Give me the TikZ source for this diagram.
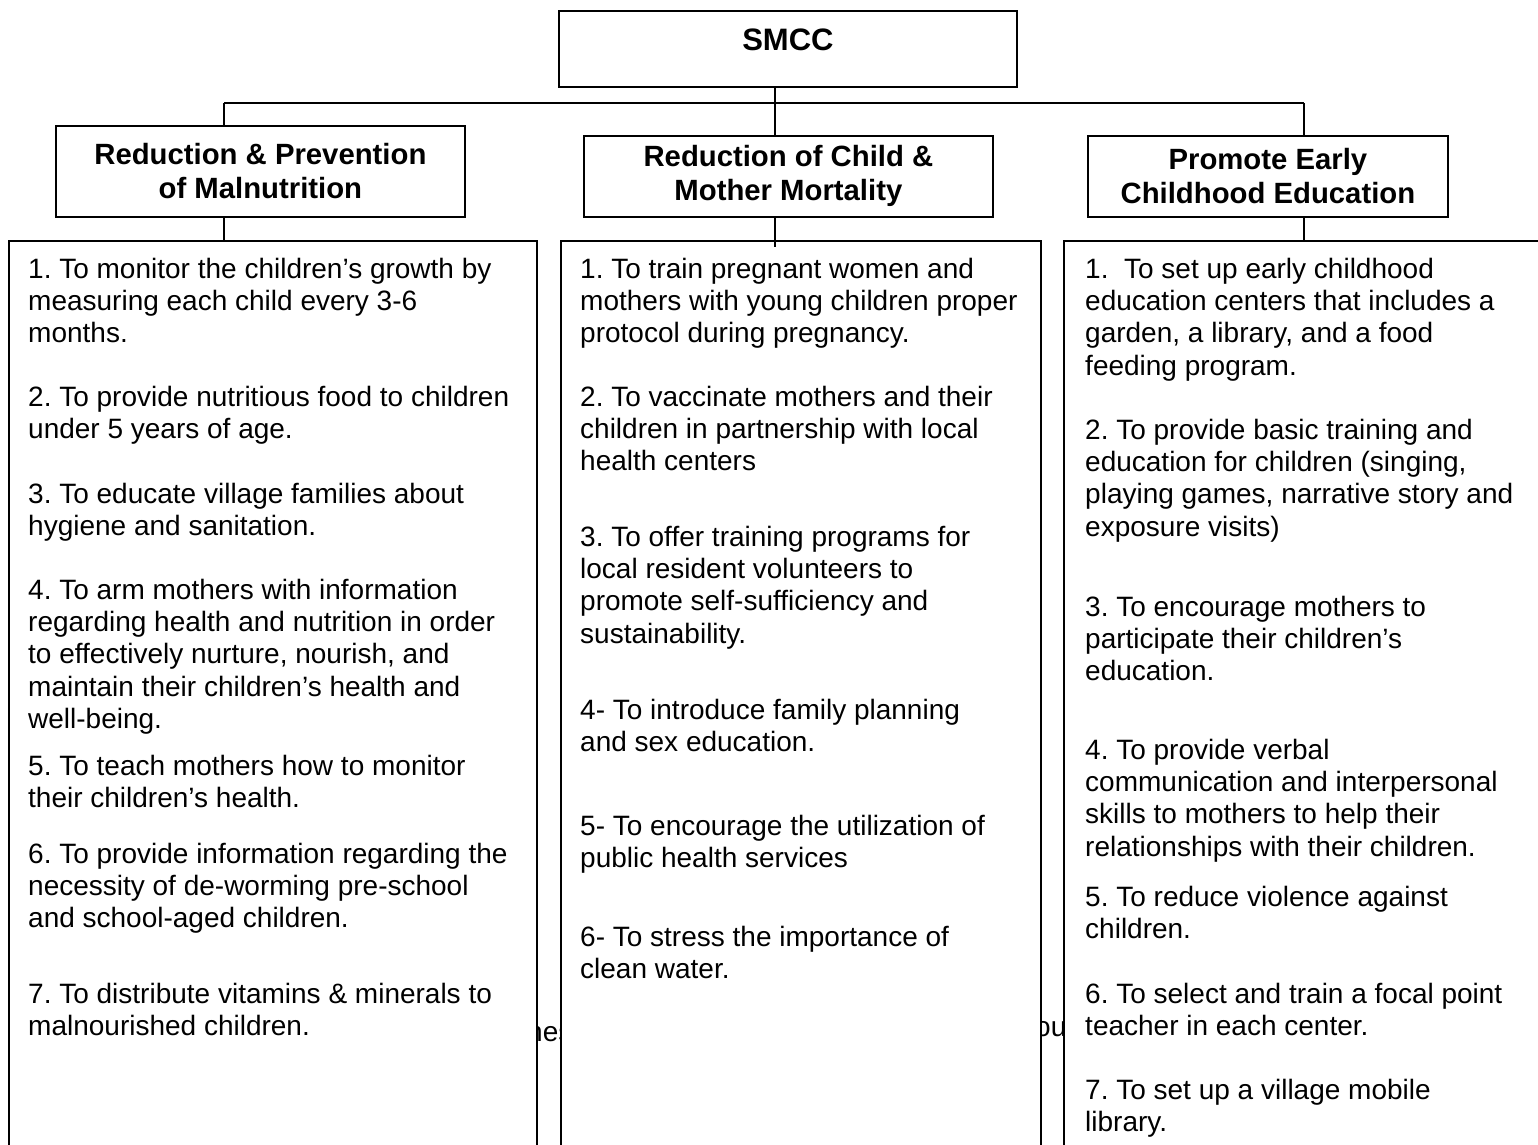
\documentclass[tikz,border=0pt]{standalone}
\usepackage{fontspec}
\setmainfont{Liberation Sans}
\usetikzlibrary{calc}
\frenchspacing
\begin{document}
\begin{tikzpicture}[x=1pt,y=-1pt,
  frame/.style={draw, line width=1.8pt, fill=white, inner sep=0pt},
  head/.style={frame, anchor=north west, align=center,
    font=\fontsize{29.3}{34}\selectfont\bfseries},
  column/.style={frame, anchor=north west, minimum height=960pt},
  item/.style={anchor=north west, inner sep=0pt, align=left,
    font=\fontsize{28}{32.2}\selectfont},
  link/.style={line width=1.3pt},
  stray/.style={anchor=north west, inner sep=0pt, font=\fontsize{28}{32}\selectfont}]
\useasboundingbox (0,0) rectangle (1538,1144);
\clip (0,0) rectangle (1538,1144);

% text lying behind the columns, only its edges show between them
\node[stray] (strayA) at (527,1021) {hes};
\node[stray] (strayB) at (1035,1021) {ou};

% top of the chart
\node[head, minimum width=458pt, minimum height=76pt,
  font=\fontsize{31}{34}\selectfont\bfseries,
  text height=22pt, text depth=18pt] (smcc) at (558,10) {SMCC};
\node[head, minimum width=409pt, minimum height=91pt] (headA) at (55,125)
  {Reduction \& Prevention\\of Malnutrition};
\node[head, minimum width=409pt, minimum height=81pt] (headB) at (583,135)
  {Reduction of Child \&\\Mother Mortality};
\node[head, minimum width=360pt, minimum height=81pt] (headC) at (1087,135)
  {Promote Early\\Childhood Education};

% the three columns run past the page bottom (and the right one past the edge)
\node[column, minimum width=528pt] (colA) at (8,240) {};
\node[column, minimum width=480pt] (colB) at (560,240) {};
\node[column, minimum width=500pt] (colC) at (1063,240) {};

% connectors
\coordinate (busL) at (224,103);
\coordinate (busM) at (775,103);
\coordinate (busR) at (1304,103);
\draw[link] (busL) -- (busR);
\draw[link] (busM |- smcc.south) -- (busM);
\draw[link] (busL) -- (busL |- headA.north);
\draw[link] (busM) -- (busM |- headB.north);
\draw[link] (busR) -- (busR |- headC.north);
\draw[link] (busL |- headA.south) -- (busL |- colA.north);
\draw[link] (busM |- headB.south) -- ($(busM |- colB.north)+(0,7)$);
\draw[link] (busR |- headC.south) -- (busR |- colC.north);

% left column
\node[item] (a1) at (28,258) {1. To monitor the children’s growth by\\measuring each child every 3-6\\months.};
\node[item] (a2) at (28,386) {2. To provide nutritious food to children\\under 5 years of age.};
\node[item] (a3) at (28,483) {3. To educate village families about\\hygiene and sanitation.};
\node[item] (a4) at (28,579) {4. To arm mothers with information\\regarding health and nutrition in order\\to effectively nurture, nourish, and\\maintain their children’s health and\\well-being.};
\node[item] (a5) at (28,755) {5. To teach mothers how to monitor\\their children’s health.};
\node[item] (a6) at (28,843) {6. To provide information regarding the\\necessity of de-worming pre-school\\and school-aged children.};
\node[item] (a7) at (28,983) {7. To distribute vitamins \& minerals to\\malnourished children.};

% middle column
\node[item] (b1) at (580,258) {1. To train pregnant women and\\mothers with young children proper\\protocol during pregnancy.};
\node[item] (b2) at (580,386) {2. To vaccinate mothers and their\\children in partnership with local\\health centers};
\node[item] (b3) at (580,526) {3. To offer training programs for\\local resident volunteers to\\promote self-sufficiency and\\sustainability.};
\node[item] (b4) at (580,699) {4- To introduce family planning\\and sex education.};
\node[item] (b5) at (580,815) {5- To encourage the utilization of\\public health services};
\node[item] (b6) at (580,926) {6- To stress the importance of\\clean water.};

% right column
\node[item] (c1) at (1085,258) {1.\ \ To set up early childhood\\education centers that includes a\\garden, a library, and a food\\feeding program.};
\node[item] (c2) at (1085,419) {2. To provide basic training and\\education for children (singing,\\playing games, narrative story and\\exposure visits)};
\node[item] (c3) at (1085,596) {3. To encourage mothers to\\participate their children’s\\education.};
\node[item] (c4) at (1085,739) {4. To provide verbal\\communication and interpersonal\\skills to mothers to help their\\relationships with their children.};
\node[item] (c5) at (1085,886) {5. To reduce violence against\\children.};
\node[item] (c6) at (1085,983) {6. To select and train a focal point\\teacher in each center.};
\node[item] (c7) at (1085,1079) {7. To set up a village mobile\\library.};
\end{tikzpicture}
\end{document}
